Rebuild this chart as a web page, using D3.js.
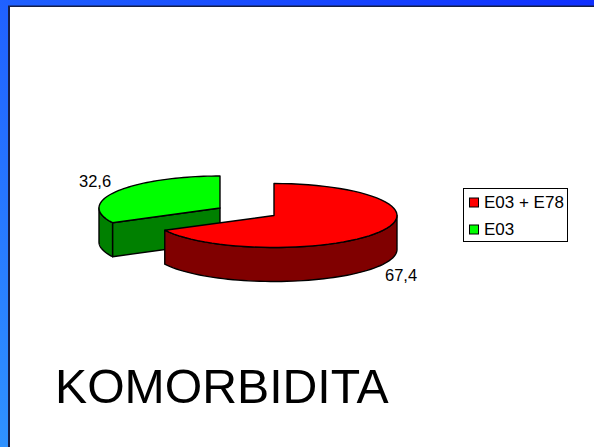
<!DOCTYPE html>
<html>
<head>
<meta charset="utf-8">
<script src="https://cdn.jsdelivr.net/npm/d3@7"></script>
<style>
html, body { margin: 0; padding: 0; background: #fff; }
svg { display: block; }
text { font-family: "Liberation Sans", Arial, sans-serif; fill: #000; }
</style>
</head>
<body>
<svg id="chart" width="594" height="447"></svg>
<script>
const categories = ["E03 + E78", "E03"];
const values = [67.4, 32.6];
const valueLabels = ["67,4", "32,6"];
const topColors = ["#ff0000", "#00ff00"];
const sideColors = ["#800000", "#008000"];

const dimensions = {
    width: 594,
    height: 447,
    cx: 274,
    cy: 215.5,
    rx: 123,
    ry: 32,
    depth: 34,
    // pulled out slice sits a bit apart and is drawn slightly smaller
    pulledApex: { dx: -54, dy: -7.5 },
    pulledRx: 121,
};

const svg = d3.select("#chart");

// Blue frame of the slide
const defs = svg.append("defs");
const frameGradient = defs.append("linearGradient")
    .attr("id", "frame")
    .attr("x1", 1).attr("y1", 0).attr("x2", 0).attr("y2", 1);
frameGradient.append("stop").attr("offset", 0).attr("stop-color", "#1030ff");
frameGradient.append("stop").attr("offset", 1).attr("stop-color", "#2f92ff");

svg.append("rect")
    .attr("width", dimensions.width)
    .attr("height", dimensions.height)
    .attr("fill", "url(#frame)");
svg.append("rect")
    .attr("x", 8).attr("y", 5.5)
    .attr("width", dimensions.width - 8)
    .attr("height", dimensions.height - 5.5)
    .attr("fill", "#151f48");
svg.append("rect")
    .attr("x", 10).attr("y", 7)
    .attr("width", dimensions.width - 10)
    .attr("height", dimensions.height - 7)
    .attr("fill", "#fff");

const colorTop = d3.scaleOrdinal().domain(categories).range(topColors);
const colorSide = d3.scaleOrdinal().domain(categories).range(sideColors);

const pie = d3.pie().sort(null).value(d => d.value);
const slices = pie(categories.map((name, i) => ({ name, value: values[i], label: valueLabels[i] })));

const line = d3.line();
const closed = pts => line(pts) + "Z";

const applyOutline = sel => sel
    .attr("stroke", "#000")
    .attr("stroke-width", 1.4)
    .attr("stroke-linejoin", "round");

function drawSlice(d) {
    // only the small slice is pulled out of the pie
    const pulled = d.data.name === "E03";
    const ox = dimensions.cx + (pulled ? dimensions.pulledApex.dx : 0);
    const oy = dimensions.cy + (pulled ? dimensions.pulledApex.dy : 0);
    const rx = pulled ? dimensions.pulledRx : dimensions.rx;

    // Point on the squashed rim, angle clockwise from 12 o'clock
    const rim = (a, dy = 0) => [
        ox + rx * Math.sin(a),
        oy - dimensions.ry * Math.cos(a) + dy,
    ];
    const arcPoints = (a0, a1, dy = 0) =>
        d3.range(0, 61).map(i => rim(a0 + (a1 - a0) * i / 60, dy));

    const g = svg.append("g");

    // Cut wall facing the viewer
    if (pulled) {
        const edge = rim(d.startAngle);
        g.append("path")
            .attr("d", closed([[ox, oy], edge, [edge[0], edge[1] + dimensions.depth], [ox, oy + dimensions.depth]]))
            .attr("fill", colorSide(d.data.name))
            .call(applyOutline);
    }

    // Outer wall: the part of the rim on the near side
    const wallStart = pulled ? d.startAngle : Math.PI / 2;
    const wallEnd = pulled ? 1.5 * Math.PI : d.endAngle;
    g.append("path")
        .attr("d", closed(arcPoints(wallStart, wallEnd)
            .concat(arcPoints(wallEnd, wallStart, dimensions.depth))))
        .attr("fill", colorSide(d.data.name))
        .call(applyOutline);

    // Top face
    g.append("path")
        .attr("d", closed([[ox, oy]].concat(arcPoints(d.startAngle, d.endAngle))))
        .attr("fill", colorTop(d.data.name))
        .call(applyOutline);
}

// Back slice first so the red one covers it
drawSlice(slices[1]);
drawSlice(slices[0]);

// Value labels
svg.selectAll("text.value")
    .data(slices)
    .enter()
    .append("text")
    .attr("class", "value")
    .attr("x", d => d.data.name === "E03" ? 79 : 385)
    .attr("y", d => d.data.name === "E03" ? 187 : 281)
    .attr("font-size", 16.5)
    .text(d => d.data.label);

// Legend
svg.append("rect")
    .attr("x", 463.5).attr("y", 188.5)
    .attr("width", 104).attr("height", 53)
    .attr("fill", "#fff")
    .attr("stroke", "#000");

const legendRow = d3.scalePoint().domain(categories).range([202.5, 229.5]);
const legend = svg.selectAll("g.legend")
    .data(categories)
    .enter()
    .append("g")
    .attr("class", "legend")
    .attr("transform", d => `translate(469,${legendRow(d)})`);
legend.append("rect")
    .attr("x", 0.5).attr("y", -4.5)
    .attr("width", 9).attr("height", 9)
    .attr("fill", d => colorTop(d))
    .attr("stroke", "#000");
legend.append("text")
    .attr("x", 15)
    .attr("y", 5)
    .attr("font-size", 17)
    .text(d => d);

// Title
svg.append("text")
    .attr("x", 55)
    .attr("y", 403)
    .attr("font-size", 48.2)
    .text("KOMORBIDITA");
</script>
</body>
</html>
